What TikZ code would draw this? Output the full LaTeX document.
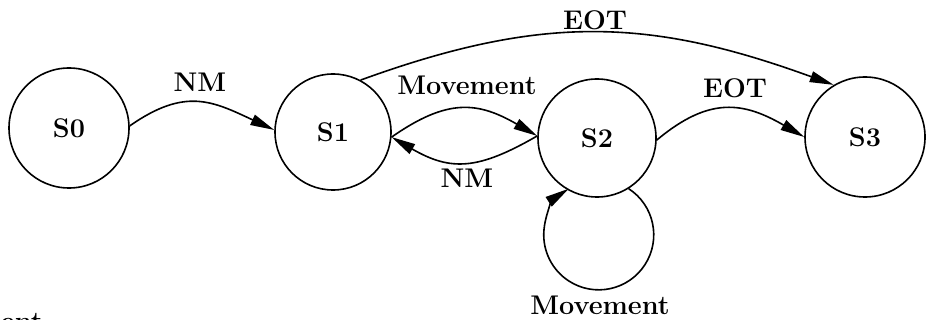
\documentclass[tikz,border=0pt]{standalone}
\usetikzlibrary{arrows.meta}
\begin{document}
\begin{tikzpicture}[x=0.5pt,y=0.5pt,
  state/.style={draw,circle,line width=0.8pt,inner sep=0pt,minimum size=#1,font=\fontsize{13.5}{15}\selectfont\bfseries},
  trans/.style={line width=0.8pt,-{Triangle[length=12pt,width=5.5pt]}},
  lbl/.style={font=\fontsize{13.5}{15}\selectfont\bfseries,inner sep=0pt}]
\useasboundingbox (0,0) rectangle (929,-320);
\node[state=60pt] (S0) at (69,-128) {S0};
\node[state=58pt] (S1) at (333,-132) {S1};
\node[state=59pt] (S2) at (597,-138) {S2};
\node[state=60pt] (S3) at (865,-137) {S3};
% transitions
\draw[trans] (S0.2) to[out=35,in=155,looseness=1.2] (S1.178);
\draw[trans] (S1.-5) to[out=35,in=150,looseness=1.2] (S2.178);
\draw[trans] (S2.178) to[out=-150,in=-30,looseness=1.2] (S1.-5);
\draw[trans] (S2.-2) to[out=40,in=150,looseness=1.2] (S3.180);
\draw[trans] (S1.62) to[out=20,in=160,looseness=1.05] (S3.121);
\draw[trans] (S2.-58) arc[start angle=57,end angle=-237,radius=55];
% labels
\node[lbl] (l1) at (200,-82) {NM};
\node[lbl] (l2) at (467,-85) {Movement};
\node[lbl] (l3) at (467,-178) {NM};
\node[lbl] (l4) at (595,-20) {EOT};
\node[lbl] (l5) at (735,-88) {EOT};
\node[lbl] (l6) at (600,-305) {Movement};
\begin{scope}
\clip (0,0) rectangle (929,-320);
\node[lbl,anchor=base east] (l7) at (43,-330) {Movement};
\end{scope}
\end{tikzpicture}
\end{document}
